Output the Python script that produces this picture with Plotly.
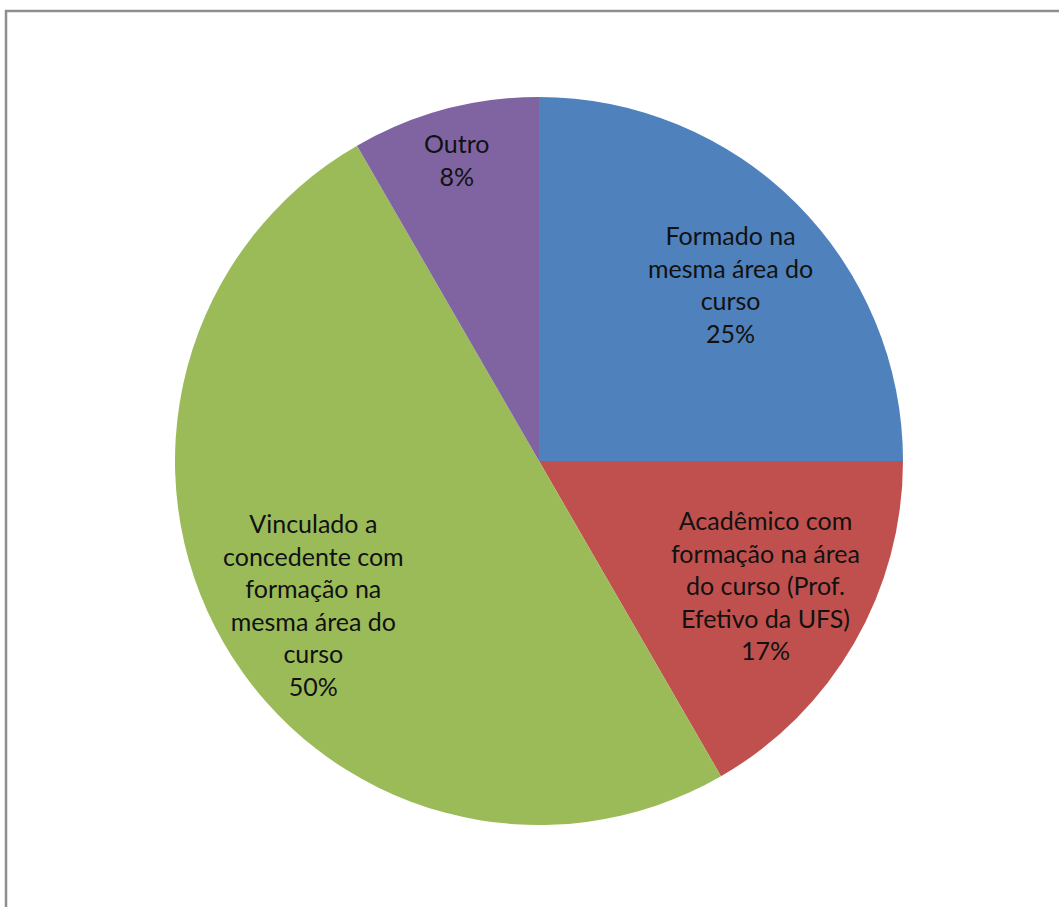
import math
import plotly.graph_objects as go

# Data
categories = [
    "Formado na<br>mesma área do<br>curso",
    "Acadêmico com<br>formação na área<br>do curso (Prof.<br>Efetivo da UFS)",
    "Vinculado a<br>concedente com<br>formação na<br>mesma área do<br>curso",
    "Outro",
]
values = [3, 2, 6, 1]
colors = ["#4F81BD", "#C0504D", "#9BBB59", "#8064A2"]

# label placement (styling only): fraction of radius and angular nudge (deg)
label_radius = [0.717, 0.71, 0.736, 0.857]
label_nudge = [2.3, -1.4, -2.5, -0.2]

W, H = 1059, 907
cx, cy, r = 539, 461, 364

fig = go.Figure()
fig.add_trace(go.Pie(
    labels=categories,
    values=values,
    sort=False,
    direction="clockwise",
    rotation=0,
    marker=dict(colors=colors, line=dict(width=0)),
    textinfo="none",
    hoverinfo="none",
    showlegend=False,
    domain=dict(x=[(cx - r) / W, (cx + r) / W],
                y=[(H - cy - r) / H, (H - cy + r) / H]),
))

# data labels placed near each slice's mid-angle
total = sum(values)
cum = 0
for lab, v, fr, nd in zip(categories, values, label_radius, label_nudge):
    mid = (cum + v / 2) / total * 2 * math.pi + math.radians(nd)
    cum += v
    px = cx + fr * r * math.sin(mid)
    py = cy - fr * r * math.cos(mid)
    pct = round(v / total * 100)
    fig.add_annotation(
        x=px / W, y=(H - py) / H, xref="paper", yref="paper",
        text=f"{lab}<br>{pct}%", showarrow=False,
        xanchor="center", yanchor="middle", align="center",
        font=dict(family="Lato", size=25, color="#111111"),
    )

fig.add_shape(type="rect", xref="paper", yref="paper",
              x0=6 / W, x1=1.02, y0=-0.02, y1=(H - 11) / H,
              line=dict(color="#8E8E8E", width=2.5), fillcolor="rgba(0,0,0,0)")

fig.update_layout(
    width=W, height=H,
    margin=dict(l=0, r=0, t=0, b=0),
    paper_bgcolor="white",
    plot_bgcolor="white",
)

fig.write_html("out.html", config={"displayModeBar": False},
               post_script="document.body.style.margin='0';")
